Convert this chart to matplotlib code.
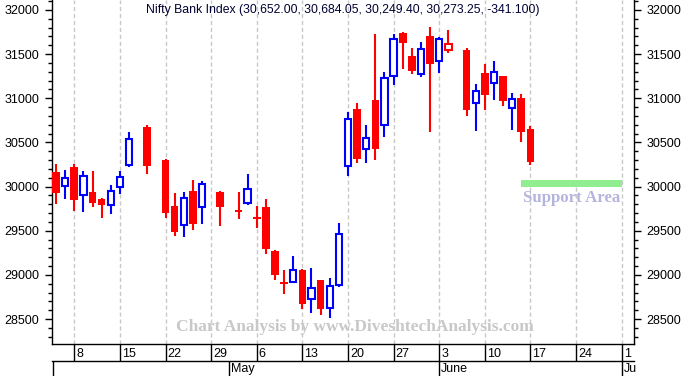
import numpy as np
import matplotlib

matplotlib.use("Agg")
import matplotlib.pyplot as plt
from matplotlib.ticker import MultipleLocator
from matplotlib.transforms import blended_transform_factory, offset_copy

# daily OHLC, Nifty Bank, Apr-Jun 2019
dates = [
    "2019-04-04", "2019-04-05", "2019-04-08", "2019-04-09", "2019-04-10",
    "2019-04-11", "2019-04-12", "2019-04-15", "2019-04-16", "2019-04-18",
    "2019-04-22", "2019-04-23", "2019-04-24", "2019-04-25", "2019-04-26",
    "2019-04-30", "2019-05-02", "2019-05-03", "2019-05-06", "2019-05-07",
    "2019-05-08", "2019-05-09", "2019-05-10", "2019-05-13", "2019-05-14",
    "2019-05-15", "2019-05-16", "2019-05-17", "2019-05-20", "2019-05-21",
    "2019-05-22", "2019-05-23", "2019-05-24", "2019-05-27", "2019-05-28",
    "2019-05-29", "2019-05-30", "2019-05-31", "2019-06-03", "2019-06-04",
    "2019-06-06", "2019-06-07", "2019-06-10", "2019-06-11", "2019-06-12",
    "2019-06-13", "2019-06-14", "2019-06-17",
]
opens = [
    30165, 30006, 30222, 29901, 29938, 29859, 29788, 29995, 30244, 30678,
    30301, 29780, 29565, 29950, 29765, 29938, 29735, 29810, 29655, 29769,
    29270, 28916, 28922, 29052, 28723, 28942, 28625, 28882, 30233, 30879,
    30426, 30981, 30697, 31252, 31739, 31479, 31272, 31705, 31419, 31544,
    31547, 30943, 31286, 31173, 31252, 30890, 31007, 30652.00,
]
highs = [
    30259, 30188, 30252, 30176, 30176, 29871, 30018, 30176, 30618, 30697,
    30310, 29927, 29942, 30074, 30063, 29945, 29938, 30142, 29780, 29856,
    29280, 29055, 29214, 29063, 29078, 28946, 28961, 29584, 30845, 30943,
    30694, 31728, 31294, 31728, 31745, 31566, 31634, 31811, 31698, 31773,
    31570, 31162, 31385, 31422, 31255, 31060, 31049, 30684.05,
]
lows = [
    29806, 29856, 29723, 29709, 29772, 29647, 29686, 29919, 30225, 30139,
    29644, 29443, 29432, 29508, 29573, 29557, 29636, 29795, 29534, 29240,
    28942, 28783, 28904, 28617, 28571, 28545, 28515, 28859, 30120, 30264,
    30264, 30298, 30565, 31147, 31332, 31272, 31245, 30618, 31290, 31516,
    30803, 30633, 30864, 30977, 30916, 30644, 30508, 30249.40,
]
closes = [
    29924, 30094, 29851, 30123, 29817, 29795, 29953, 30112, 30542, 30236,
    29704, 29489, 29874, 29579, 30026, 29772, 29712, 29969, 29633, 29293,
    29002, 28896, 29052, 28670, 28851, 28613, 28870, 29459, 30769, 30316,
    30547, 30429, 31226, 31668, 31623, 31312, 31555, 31392, 31668, 31615,
    30871, 31079, 31037, 31294, 30973, 30988, 30614.35, 30273.25,
]

week_ticks = [
    "2019-04-08", "2019-04-15", "2019-04-22", "2019-04-29", "2019-05-06",
    "2019-05-13", "2019-05-20", "2019-05-27", "2019-06-03", "2019-06-10",
    "2019-06-17", "2019-06-24", "2019-07-01",
]
week_labels = ["8", "15", "22", "29", "6", "13", "20", "27", "3", "10", "17", "24", "1"]
month_starts = ["2019-04-01", "2019-05-01", "2019-06-01", "2019-07-01"]
month_labels = ["", "May", "June", "Ju"]

support_low, support_high = 30000, 30075
support_span = ["2019-06-14", "2019-07-01"]

BASE = "2019-04-01"
RED, BLUE = "#ff0000", "#0000ff"


def xpos(days):
    """Trading-day axis: one slot per weekday counted from BASE."""
    return np.busday_count(BASE, np.array(days, dtype="datetime64[D]")).astype(float)


def ay(ypix):
    """Pixel row (from figure top) -> axes fraction, plot is 344 px tall."""
    return (344 - ypix) / 344


fig = plt.figure(figsize=(6.86, 3.76), dpi=100, facecolor="white")
ax = fig.add_axes([52 / 686, 32 / 376, 582 / 686, 344 / 376])

x = xpos(dates)
o, h, l, c = map(np.asarray, (opens, highs, lows, closes))
prev = np.r_[o[0], c[:-1]]
col = np.where(c > prev, BLUE, RED)
hollow = c > o

ax.vlines(x, l, h, colors=col, lw=1.5, zorder=2)
f = ~hollow
ax.bar(x[f], np.abs(c - o)[f], bottom=np.minimum(o, c)[f], width=0.84,
       color=col[f], lw=0, zorder=3)
ax.bar(x[hollow], np.abs(c - o)[hollow], bottom=np.minimum(o, c)[hollow],
       width=0.7, facecolor="white", edgecolor=col[hollow], lw=1.5, zorder=3)

# support zone
sx = xpos(support_span)
ax.fill_between(sx, support_low, support_high, color="#90ee90", lw=0, zorder=2)
ax.text(sx.mean(), support_low - 125, "Support Area", ha="center", va="center",
        fontsize=12.1, family="Liberation Serif", weight="bold", color="#b4b4dc")

ax.set_xlim(2.556, 66.35)
ax.set_ylim(28217, 32113)

# weekly grid + the date strip below the plot
wx = xpos(week_ticks)
ax.set_xticks(wx)
ax.tick_params(axis="x", direction="out", length=12.2, width=1, labelbottom=False)
ax.grid(axis="x", ls=(0, (3, 2)), color="#c8c8c8", lw=1)
ax.set_axisbelow(True)

bt = blended_transform_factory(ax.transData, ax.transAxes)
lab_t = offset_copy(bt, fig=fig, x=2, units="dots")
for xv, lab in zip(wx, week_labels):
    ax.text(xv, ay(354), lab, transform=lab_t, ha="left", va="center",
            fontsize=9, family="Liberation Sans")
ax.plot([0, 1], [ay(361)] * 2, transform=ax.transAxes, clip_on=False,
        color="black", lw=1)
mx = np.maximum(xpos(month_starts), 2.556 + 0.1)
ax.vlines(mx, ay(376), ay(361), transform=bt, clip_on=False, color="black", lw=1)
for xv, lab in zip(mx, month_labels):
    ax.text(xv, ay(369), lab, transform=lab_t, ha="left", va="center",
            fontsize=9, family="Liberation Sans")

# price axis on both sides
ax.yaxis.set_major_locator(MultipleLocator(500))
ax.yaxis.set_minor_locator(MultipleLocator(100))
ax.tick_params(axis="y", which="both", direction="out", left=True, right=True,
               labelleft=True, labelright=True, width=1)
ax.tick_params(axis="y", which="major", length=5, pad=4, labelsize=9)
ax.tick_params(axis="y", which="minor", length=3)
for t in ax.get_yticklabels():
    t.set_family("Liberation Sans")

ax.spines["top"].set_visible(False)
for s in ("left", "right", "bottom"):
    ax.spines[s].set_linewidth(1)

title = (f"Nifty Bank Index ({opens[-1]:,.2f}, {highs[-1]:,.2f}, {lows[-1]:,.2f}, "
         f"{closes[-1]:,.2f}, {closes[-1] - closes[-2]:.3f})")
ax.text(0.5, ay(10), title, transform=ax.transAxes, ha="center", va="center",
        fontsize=8.8, family="Liberation Sans", color="#000033")
ax.text(0.5198, ay(327), "Chart Analysis by www.DiveshtechAnalysis.com",
        transform=ax.transAxes, ha="center", va="center", fontsize=12.5,
        family="Liberation Serif", weight="bold", color="#c8c8c8", zorder=1)

fig.savefig("out.png", dpi=100, facecolor="white")
plt.close(fig)
